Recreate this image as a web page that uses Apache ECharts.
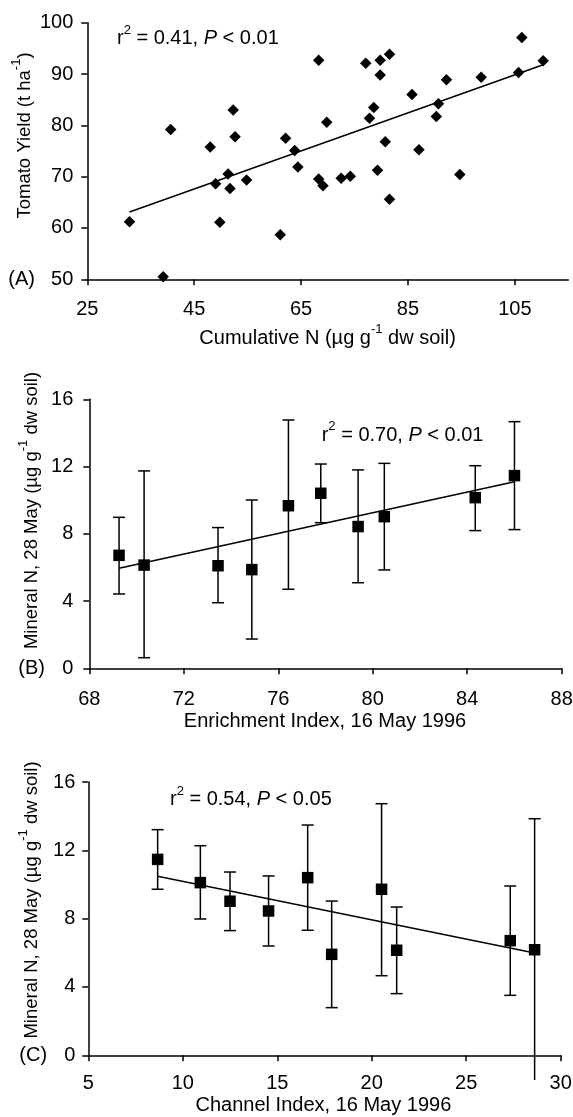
<!DOCTYPE html>
<html>
<head>
<meta charset="utf-8">
<script src="https://cdn.jsdelivr.net/npm/echarts@6/dist/echarts.min.js"></script>
<style>
  html, body { margin: 0; padding: 0; background: #fff; }
  #main { width: 573px; height: 1117px; }
</style>
</head>
<body>
<div id="main"></div>
<script>
// panel A: tomato yield vs cumulative N
var cumN = [32.9, 39.2, 40.6, 48.0, 49.0, 49.8, 51.35, 51.7, 52.3, 52.65, 54.8, 61.1, 62.1, 63.8, 64.4,
  68.3, 69.8, 68.3, 69.1, 72.5, 74.2, 77.1, 77.8, 78.6, 79.3, 79.8, 79.8, 80.75, 81.55, 81.55,
  85.75, 87.05, 90.3, 90.7, 92.2, 94.7, 98.7, 105.7, 106.3, 110.3];
var yieldA = [61.2, 50.5, 79.2, 75.8, 68.6, 61.1, 70.5, 67.7, 83.0, 77.8, 69.35, 58.7, 77.5, 75.1, 71.9,
  92.7, 80.6, 69.55, 68.25, 69.7, 70.1, 92.1, 81.4, 83.5, 71.25, 92.7, 89.8, 76.8, 93.85, 65.6,
  86.0, 75.25, 81.7, 84.2, 88.9, 70.4, 89.35, 90.3, 97.1, 92.6];
var trendA = [[32.9, 63.1], [110.3, 91.8]];
var xTicksA = [25, 45, 65, 85, 105];

// panel B: mineral N vs enrichment index
var enrich = [69.26, 70.32, 73.45, 74.88, 76.43, 77.8, 79.38, 80.49, 84.34, 86.0];
var minB = [6.72, 6.14, 6.10, 5.87, 9.67, 10.41, 8.43, 9.02, 10.15, 11.46];
var hiB = [8.98, 11.74, 8.37, 10.01, 14.77, 12.15, 11.8, 12.19, 12.05, 14.67];
var loB = [4.42, 0.63, 3.9, 1.74, 4.7, 8.66, 5.09, 5.85, 8.19, 8.25];
var trendB = [[69.26, 5.95], [86.0, 11.1]];

// panel C: mineral N vs channel index
var channel = [8.67, 10.93, 12.5, 14.54, 16.61, 17.88, 20.52, 21.32, 27.33, 28.62];
var minC = [11.47, 10.11, 9.02, 8.45, 10.4, 5.91, 9.72, 6.15, 6.71, 6.18];
var hiC = [13.21, 12.27, 10.73, 10.5, 13.48, 9.03, 14.73, 8.68, 9.91, 13.85];
var loC = [9.72, 7.98, 7.3, 6.4, 7.32, 2.79, 4.66, 3.61, 3.51, -1.45];
var trendC = [[8.67, 10.48], [28.62, 5.99]];

var FONT = "'Liberation Sans', Arial, sans-serif";
var FS = 20;

function zip(xs, ys) {
  var out = [];
  for (var i = 0; i < xs.length; i++) out.push([xs[i], ys[i]]);
  return out;
}
function zip3(xs, lo, hi) {
  var out = [];
  for (var i = 0; i < xs.length; i++) out.push([xs[i], lo[i], hi[i]]);
  return out;
}

function errorBar(params, api) {
  var x = api.value(0);
  var top = api.coord([x, api.value(2)]);
  var bot = api.coord([x, api.value(1)]);
  var st = { stroke: '#000', lineWidth: 1.5 };
  var half = 6;
  var kids = [
    { type: 'line', shape: { x1: top[0], y1: top[1], x2: bot[0], y2: bot[1] }, style: st },
    { type: 'line', shape: { x1: top[0] - half, y1: top[1], x2: top[0] + half, y2: top[1] }, style: st }
  ];
  if (api.value(1) >= 0) {
    kids.push({ type: 'line', shape: { x1: bot[0] - half, y1: bot[1], x2: bot[0] + half, y2: bot[1] }, style: st });
  }
  return { type: 'group', children: kids };
}

var axisLine = { onZero: false, lineStyle: { color: '#000', width: 1.5 } };
var axisTick = { length: 6, lineStyle: { color: '#000', width: 1.5 } };

function ax(grid, min, max, interval, margin) {
  return {
    type: 'value', gridIndex: grid, min: min, max: max, interval: interval,
    axisLine: axisLine, axisTick: { length: 6, lineStyle: axisTick.lineStyle }, splitLine: { show: false },
    axisLabel: { color: '#000', fontSize: FS, fontFamily: FONT, margin: margin }
  };
}

function makeRich(fs) {
  return {
    n: { fontSize: fs, fontFamily: FONT, lineHeight: 30, fill: '#000' },
    i: { fontSize: fs, fontFamily: FONT, fontStyle: 'italic', lineHeight: 30, fill: '#000' },
    s: { fontSize: 13, fontFamily: FONT, lineHeight: 14, verticalAlign: 'top', fill: '#000' }
  };
}

function label(text, x, y, rot, align, fs) {
  fs = fs || FS;
  return {
    type: 'text', x: x, y: y, rotation: rot || 0,
    style: {
      x: 0, y: 0, text: text, rich: makeRich(fs),
      font: fs + 'px ' + FONT, fill: '#000',
      align: align || 'center', verticalAlign: 'middle'
    }
  };
}

var chart = echarts.init(document.getElementById('main'), null, { renderer: 'canvas' });

var xAxA = ax(0, 25, 115, 20, 20);
xAxA.axisLabel.customValues = xTicksA;
xAxA.axisTick.customValues = xTicksA;

var dot = { color: '#000', opacity: 1 };
var YT = 18.5;

var option = {
  backgroundColor: '#fff',
  animation: false,
  grid: [
    { left: 87.3, top: 22.7, width: 481, height: 256.6, outerBoundsMode: 'none' },
    { left: 89.3, top: 399.3, width: 472.4, height: 269, outerBoundsMode: 'none' },
    { left: 88.3, top: 782, width: 472.4, height: 273.3, outerBoundsMode: 'none' }
  ],
  xAxis: [
    xAxA,
    ax(1, 68, 88, 4, 21),
    ax(2, 5, 30, 5, 18)
  ],
  yAxis: [
    ax(0, 50, 100, 10, 14),
    ax(1, 0, 16, 4, 16),
    ax(2, 0, 16, 4, 13)
  ],
  series: [
    {
      type: 'line', xAxisIndex: 0, yAxisIndex: 0, data: trendA, symbol: 'none', z: 2,
      lineStyle: { color: '#000', width: 1.5 }
    },
    {
      type: 'scatter', xAxisIndex: 0, yAxisIndex: 0, data: zip(cumN, yieldA), z: 3,
      symbol: 'diamond', symbolSize: 11.5, itemStyle: dot
    },
    {
      type: 'custom', xAxisIndex: 1, yAxisIndex: 1, data: zip3(enrich, loB, hiB), z: 1,
      renderItem: errorBar
    },
    {
      type: 'line', xAxisIndex: 1, yAxisIndex: 1, data: trendB, symbol: 'none', z: 2,
      lineStyle: { color: '#000', width: 1.5 }
    },
    {
      type: 'scatter', xAxisIndex: 1, yAxisIndex: 1, data: zip(enrich, minB), z: 3,
      symbol: 'rect', symbolSize: 11.5, itemStyle: dot
    },
    {
      type: 'custom', xAxisIndex: 2, yAxisIndex: 2, data: zip3(channel, loC, hiC), z: 1,
      renderItem: errorBar
    },
    {
      type: 'line', xAxisIndex: 2, yAxisIndex: 2, data: trendC, symbol: 'none', z: 2,
      lineStyle: { color: '#000', width: 1.5 }
    },
    {
      type: 'scatter', xAxisIndex: 2, yAxisIndex: 2, data: zip(channel, minC), z: 3,
      symbol: 'rect', symbolSize: 11.5, itemStyle: dot
    }
  ],
  graphic: [
    label('{n|r}{s|2}{n| = 0.41, }{i|P}{n| < 0.01}', 117, 38.7, 0, 'left'),
    label('{n|r}{s|2}{n| = 0.70, }{i|P}{n| < 0.01}', 321.7, 435, 0, 'left'),
    label('{n|r}{s|2}{n| = 0.54, }{i|P}{n| < 0.05}', 170, 799.5, 0, 'left'),
    label('{n|Tomato Yield (t ha}{s|-1}{n|)}', 25, 135.5, Math.PI / 2, 'center', YT),
    label('{n|Mineral N, 28 May (µg g}{s|-1}{n| dw soil)}', 31.7, 510.5, Math.PI / 2, 'center', YT),
    label('{n|Mineral N, 28 May (µg g}{s|-1}{n| dw soil)}', 31.7, 900, Math.PI / 2, 'center', YT),
    label('{n|Cumulative N (µg g}{s|-1}{n| dw soil)}', 327.6, 338),
    label('{n|Enrichment Index, 16 May 1996}', 325, 721),
    label('{n|Channel Index, 16 May 1996}', 323.4, 1105),
    label('{n|(A)}', 8.3, 279.3, 0, 'left'),
    label('{n|(B)}', 18.3, 668.3, 0, 'left'),
    label('{n|(C)}', 19.3, 1055.3, 0, 'left')
  ]
};
chart.setOption(option);
</script>
</body>
</html>
